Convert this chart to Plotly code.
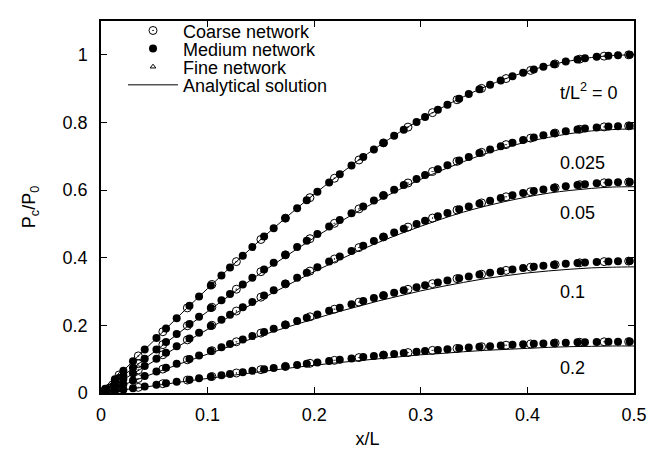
import plotly.graph_objects as go

# ---------------- data ----------------
times = ["0", "0.025", "0.05", "0.1", "0.2"]

# Analytical solution
x_anal = [0.00, 0.02, 0.04, 0.06, 0.08, 0.10, 0.12, 0.14, 0.16, 0.18, 0.20, 0.22, 0.24,
          0.26, 0.28, 0.30, 0.32, 0.34, 0.36, 0.38, 0.40, 0.42, 0.44, 0.46, 0.48, 0.50]
anal_t0 = [0, 0.063, 0.125, 0.187, 0.249, 0.309, 0.368, 0.426, 0.482, 0.536, 0.588, 0.637, 0.685,
           0.729, 0.771, 0.809, 0.844, 0.876, 0.905, 0.930, 0.951, 0.969, 0.982, 0.992, 0.998, 1.000]
anal_t025 = [0, 0.049, 0.098, 0.146, 0.194, 0.241, 0.287, 0.333, 0.376, 0.418, 0.459, 0.498, 0.535,
             0.569, 0.602, 0.632, 0.659, 0.684, 0.707, 0.726, 0.743, 0.756, 0.767, 0.775, 0.779, 0.781]
anal_t05 = [0, 0.038, 0.076, 0.114, 0.152, 0.188, 0.225, 0.260, 0.294, 0.327, 0.359, 0.389, 0.418,
            0.445, 0.470, 0.493, 0.515, 0.535, 0.552, 0.567, 0.580, 0.591, 0.599, 0.605, 0.609, 0.610]
anal_t1 = [0, 0.023, 0.047, 0.070, 0.093, 0.115, 0.137, 0.159, 0.180, 0.200, 0.219, 0.238, 0.255,
           0.272, 0.287, 0.302, 0.315, 0.327, 0.338, 0.347, 0.355, 0.361, 0.366, 0.370, 0.372, 0.373]
anal_t2 = [0, 0.009, 0.017, 0.026, 0.035, 0.043, 0.051, 0.059, 0.067, 0.075, 0.082, 0.089, 0.095,
           0.101, 0.107, 0.113, 0.117, 0.122, 0.126, 0.129, 0.132, 0.135, 0.137, 0.138, 0.139, 0.139]

# Medium network
x_med = [0.0, 0.004, 0.013, 0.021, 0.030, 0.041, 0.052, 0.061, 0.071, 0.083, 0.092, 0.103, 0.113,
         0.121, 0.133, 0.142, 0.153, 0.162, 0.173, 0.184, 0.193, 0.203, 0.214, 0.224, 0.235, 0.246,
         0.256, 0.265, 0.275, 0.284, 0.296, 0.304, 0.316, 0.325, 0.336, 0.345, 0.355, 0.365, 0.375,
         0.386, 0.396, 0.406, 0.415, 0.425, 0.436, 0.447, 0.454, 0.465, 0.476, 0.485, 0.496]
med_t0 = [0, 0.0126, 0.0408, 0.0659, 0.0941, 0.1284, 0.1627, 0.1905, 0.2212, 0.2578, 0.2850, 0.3180,
          0.3476, 0.3710, 0.4058, 0.4314, 0.4624, 0.4873, 0.5171, 0.5463, 0.5698, 0.5953, 0.6228,
          0.6472, 0.6730, 0.6982, 0.7203, 0.7396, 0.7604, 0.7782, 0.8013, 0.8163, 0.8374, 0.8526,
          0.8703, 0.8838, 0.8980, 0.9112, 0.9239, 0.9366, 0.9472, 0.9567, 0.9646, 0.9724, 0.9799,
          0.9862, 0.9896, 0.9940, 0.9972, 0.9989, 0.9999]
med_t025 = [0, 0.0100, 0.0322, 0.0521, 0.0743, 0.1014, 0.1285, 0.1505, 0.1747, 0.2037, 0.2252, 0.2512,
            0.2746, 0.2931, 0.3206, 0.3408, 0.3653, 0.3850, 0.4085, 0.4316, 0.4501, 0.4703, 0.4920,
            0.5113, 0.5317, 0.5516, 0.5690, 0.5843, 0.6007, 0.6148, 0.6330, 0.6449, 0.6615, 0.6736,
            0.6875, 0.6982, 0.7094, 0.7198, 0.7299, 0.7399, 0.7483, 0.7558, 0.7620, 0.7682, 0.7741,
            0.7791, 0.7818, 0.7853, 0.7878, 0.7891, 0.7899]
med_t05 = [0, 0.0079, 0.0255, 0.0411, 0.0587, 0.0801, 0.1015, 0.1189, 0.1380, 0.1609, 0.1778, 0.1984,
           0.2169, 0.2315, 0.2532, 0.2692, 0.2885, 0.3041, 0.3227, 0.3409, 0.3556, 0.3715, 0.3886,
           0.4039, 0.4200, 0.4357, 0.4495, 0.4615, 0.4745, 0.4856, 0.5000, 0.5094, 0.5225, 0.5320,
           0.5431, 0.5515, 0.5604, 0.5686, 0.5765, 0.5844, 0.5911, 0.5970, 0.6019, 0.6068, 0.6115,
           0.6154, 0.6175, 0.6203, 0.6223, 0.6233, 0.6239]
med_t1 = [0, 0.0049, 0.0159, 0.0257, 0.0367, 0.0501, 0.0635, 0.0743, 0.0863, 0.1005, 0.1112, 0.1240,
          0.1356, 0.1447, 0.1583, 0.1682, 0.1803, 0.1900, 0.2017, 0.2131, 0.2222, 0.2322, 0.2429,
          0.2524, 0.2625, 0.2723, 0.2809, 0.2884, 0.2966, 0.3035, 0.3125, 0.3184, 0.3266, 0.3325,
          0.3394, 0.3447, 0.3502, 0.3554, 0.3603, 0.3653, 0.3694, 0.3731, 0.3762, 0.3792, 0.3822,
          0.3846, 0.3859, 0.3877, 0.3889, 0.3896, 0.3900]
med_t2 = [0, 0.0019, 0.0062, 0.0100, 0.0143, 0.0195, 0.0247, 0.0290, 0.0336, 0.0392, 0.0433, 0.0483,
          0.0528, 0.0564, 0.0617, 0.0656, 0.0703, 0.0741, 0.0786, 0.0830, 0.0866, 0.0905, 0.0947,
          0.0984, 0.1023, 0.1061, 0.1095, 0.1124, 0.1156, 0.1183, 0.1218, 0.1241, 0.1273, 0.1296,
          0.1323, 0.1343, 0.1365, 0.1385, 0.1404, 0.1424, 0.1440, 0.1454, 0.1466, 0.1478, 0.1489,
          0.1499, 0.1504, 0.1511, 0.1516, 0.1518, 0.1520]

# Coarse network
x_coarse = [0.0, 0.017, 0.035, 0.058, 0.081, 0.104, 0.127, 0.150, 0.173, 0.196, 0.219, 0.242,
            0.265, 0.288, 0.311, 0.334, 0.357, 0.380, 0.403, 0.426, 0.449, 0.472, 0.495]
coarse_t0 = [0, 0.0534, 0.1097, 0.1812, 0.2517, 0.3210, 0.3885, 0.4540, 0.5171, 0.5776, 0.6350,
             0.6891, 0.7396, 0.7862, 0.8290, 0.8671, 0.9008, 0.9298, 0.9539, 0.9731, 0.9872,
             0.9961, 0.9999]
coarse_t025 = [0, 0.0422, 0.0867, 0.1431, 0.1988, 0.2536, 0.3069, 0.3587, 0.4085, 0.4563, 0.5017,
               0.5444, 0.5843, 0.6211, 0.6549, 0.6850, 0.7116, 0.7345, 0.7536, 0.7687, 0.7799,
               0.7869, 0.7899]
coarse_t05 = [0, 0.0333, 0.0685, 0.1131, 0.1571, 0.2003, 0.2424, 0.2833, 0.3227, 0.3604, 0.3962,
              0.4300, 0.4615, 0.4906, 0.5173, 0.5411, 0.5621, 0.5802, 0.5952, 0.6072, 0.6160,
              0.6216, 0.6239]
coarse_t1 = [0, 0.0208, 0.0428, 0.0707, 0.0982, 0.1252, 0.1515, 0.1771, 0.2017, 0.2253, 0.2477,
             0.2687, 0.2884, 0.3066, 0.3233, 0.3382, 0.3513, 0.3626, 0.3720, 0.3795, 0.3850,
             0.3885, 0.3900]
coarse_t2 = [0, 0.0081, 0.0167, 0.0275, 0.0383, 0.0488, 0.0591, 0.0690, 0.0786, 0.0878, 0.0965,
             0.1047, 0.1124, 0.1195, 0.1260, 0.1318, 0.1369, 0.1413, 0.1450, 0.1479, 0.1501,
             0.1514, 0.1520]

# Fine network (visible near the origin)
x_fine = [0.003, 0.006, 0.009, 0.012, 0.015, 0.018]
fine_t0 = [0.0094, 0.0188, 0.0283, 0.0377, 0.0471, 0.0565]
fine_t025 = [0.0074, 0.0149, 0.0224, 0.0298, 0.0372, 0.0446]
fine_t05 = [0.0059, 0.0117, 0.0177, 0.0235, 0.0294, 0.0353]
fine_t1 = [0.0037, 0.0073, 0.0110, 0.0147, 0.0184, 0.0220]
fine_t2 = [0.0014, 0.0029, 0.0043, 0.0057, 0.0072, 0.0086]

# curve labels
label_text = ["t/L<sup>2</sup> = 0", "0.025", "0.05", "0.1", "0.2"]
label_x = [0.429, 0.429, 0.429, 0.429, 0.429]
label_y = [0.893, 0.681, 0.531, 0.299, 0.075]

series_names = ["Coarse network", "Medium network", "Fine network", "Analytical solution"]

# ---------------- figure ----------------
FONT = "Liberation Sans, Arial, Helvetica, sans-serif"
FS = 18
fig = go.Figure()

coarse_sets = [coarse_t0, coarse_t025, coarse_t05, coarse_t1, coarse_t2]
med_sets = [med_t0, med_t025, med_t05, med_t1, med_t2]
fine_sets = [fine_t0, fine_t025, fine_t05, fine_t1, fine_t2]
anal_sets = [anal_t0, anal_t025, anal_t05, anal_t1, anal_t2]

for i, ys in enumerate(coarse_sets):
    fig.add_trace(go.Scatter(
        x=x_coarse, y=ys, mode="markers", name=series_names[0],
        legend="legend", showlegend=(i == 0),
        marker=dict(symbol="circle-open-dot", size=8, color="black", line=dict(width=1, color="black")),
    ))
for i, ys in enumerate(med_sets):
    fig.add_trace(go.Scatter(
        x=x_med, y=ys, mode="markers", name=series_names[1],
        legend="legend2", showlegend=(i == 0),
        marker=dict(symbol="circle", size=8, color="black"),
    ))
for i, ys in enumerate(fine_sets):
    fig.add_trace(go.Scatter(
        x=x_fine, y=ys, mode="markers", name=series_names[2],
        legend="legend3", showlegend=(i == 0),
        marker=dict(symbol="triangle-up-open", size=5, color="black", line=dict(width=1, color="black")),
    ))
for i, ys in enumerate(anal_sets):
    fig.add_trace(go.Scatter(
        x=x_anal, y=ys, mode="lines", name=series_names[3],
        legend="legend4", showlegend=(i == 0),
        line=dict(color="black", width=1, shape="spline"),
    ))

for t, lx, ly in zip(label_text, label_x, label_y):
    fig.add_annotation(x=lx, y=ly, text=t, showarrow=False,
                       font=dict(family=FONT, size=FS, color="black"),
                       xanchor="left", yanchor="middle")

axis_common = dict(
    showline=True, linecolor="black", linewidth=1.5, mirror="allticks",
    ticks="inside", ticklen=6, tickcolor="black", tickwidth=1,
    showgrid=False, zeroline=False, automargin=False,
    tickfont=dict(family=FONT, size=FS, color="black"),
)

fig.update_xaxes(range=[0, 0.5], tickvals=[0, 0.1, 0.2, 0.3, 0.4, 0.5],
                 ticktext=["0", "0.1", "0.2", "0.3", "0.4", "0.5"],
                 title=dict(text="x/L", font=dict(family=FONT, size=FS, color="black"), standoff=12),
                 ticklabelstandoff=5,
                 **axis_common)
fig.update_yaxes(range=[0, 1.1], tickvals=[0, 0.2, 0.4, 0.6, 0.8, 1.0],
                 ticktext=["0", "0.2", "0.4", "0.6", "0.8", "1"],
                 title=dict(text="P<sub>c</sub>/P<sub>0</sub>", font=dict(family=FONT, size=FS, color="black"), standoff=22),
                 ticklabelstandoff=8,
                 **axis_common)

leg_y = [0.9737, 0.9250, 0.8763, 0.8276]
leg_common = dict(x=0.0413, xanchor="left", yanchor="middle",
                  bgcolor="rgba(0,0,0,0)", borderwidth=0, itemwidth=50,
                  font=dict(family=FONT, size=FS, color="black"))

fig.update_layout(
    width=648, height=449,
    margin=dict(l=101, r=14, t=13, b=56),
    paper_bgcolor="white", plot_bgcolor="white",
    showlegend=True,
    legend=dict(y=leg_y[0], **leg_common),
    legend2=dict(y=leg_y[1], **leg_common),
    legend3=dict(y=leg_y[2], **leg_common),
    legend4=dict(y=leg_y[3], **leg_common),
    font=dict(family=FONT, color="black"),
)

fig.write_html("out.html")
